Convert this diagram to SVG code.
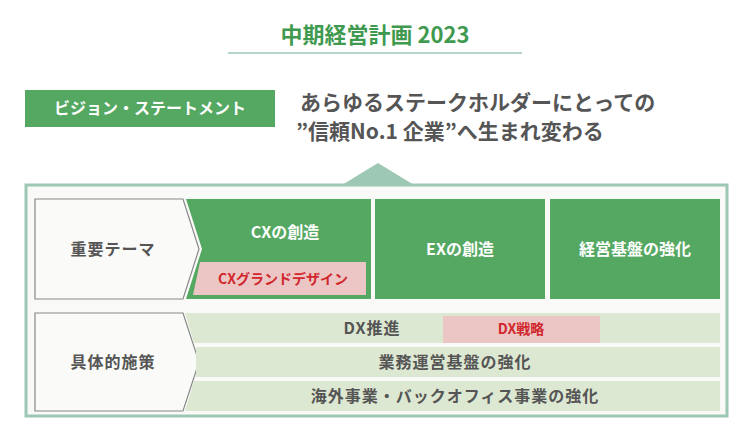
<svg xmlns="http://www.w3.org/2000/svg" width="752" height="445" viewBox="0 0 752 445">
<style>
text{font-family:"Noto Sans CJK JP","Noto Sans",sans-serif;font-weight:bold;text-anchor:middle}
.w{fill:#fff;font-size:16px}
.g{fill:#555;font-size:16px;letter-spacing:1px}
.r{fill:#d0262c;font-size:14px}
.gr{fill:#55a862}
.lg{fill:#dde8d2}
.pk{fill:#ecc6c5}
</style>
<rect width="752" height="445" fill="#fff"/>
<g id="title"><text x="375" y="43" style="fill:#3f9a50;font-size:22px">中期経営計画 2023</text>
<line x1="228" y1="53" x2="522" y2="53" stroke="#9dc8b3" stroke-width="1.5"/></g>
<g id="vision"><rect x="25" y="90" width="250" height="37" class="gr"/>
<text x="150" y="114" class="w">ビジョン・ステートメント</text>
<text x="300" y="110" style="fill:#555;font-size:21px;text-anchor:start">あらゆるステークホルダーにとっての</text>
<text x="296" y="139" style="fill:#555;font-size:21px;text-anchor:start">”信頼No.1 企業”へ生まれ変わる</text></g>
<g id="frame"><polygon points="342,185 378,163 414,185" fill="#9dc8b3"/>
<rect x="26" y="185" width="701" height="231" fill="#f9f9f7" stroke="#9dc8b3" stroke-width="3"/></g>
<g id="theme"><polygon points="35,199 183,199 199,249 183,299 35,299" fill="#fafaf8" stroke="#888" stroke-width="1.2"/>
<text x="113" y="255" class="g">重要テーマ</text></g>
<g id="cx"><polygon points="186,199 371,199 371,299 186,299 202,249" class="gr"/>
<polygon points="200,262 366,262 366,295 193,295" class="pk"/>
<text x="285" y="238" class="w">CXの創造</text>
<text x="283" y="284" class="r">CXグランドデザイン</text></g>
<g id="ex"><rect x="375" y="199" width="170" height="100" class="gr"/><text x="460" y="255" class="w">EXの創造</text></g>
<g id="base"><rect x="550" y="199" width="170" height="100" class="gr"/><text x="635" y="255" class="w">経営基盤の強化</text></g>
<g id="measures"><polygon points="35,313 183,313 199,362 183,411 35,411" fill="#fafaf8" stroke="#888" stroke-width="1.2"/>
<text x="113" y="368" class="g">具体的施策</text></g>
<g id="dx"><polygon points="185,313 720,313 720,343 194,343" class="lg"/>
<rect x="443" y="316" width="157" height="27" class="pk"/>
<text x="372" y="334" class="g">DX推進</text><text x="521" y="334" class="r">DX戦略</text></g>
<g id="ops"><polygon points="196,347 720,347 720,377 196,377" class="lg"/><text x="455" y="368" class="g">業務運営基盤の強化</text></g>
<g id="overseas"><polygon points="194,381 720,381 720,411 185,411" class="lg"/><text x="455" y="402" class="g">海外事業・バックオフィス事業の強化</text></g>
<g id="connectors"/>
</svg>
